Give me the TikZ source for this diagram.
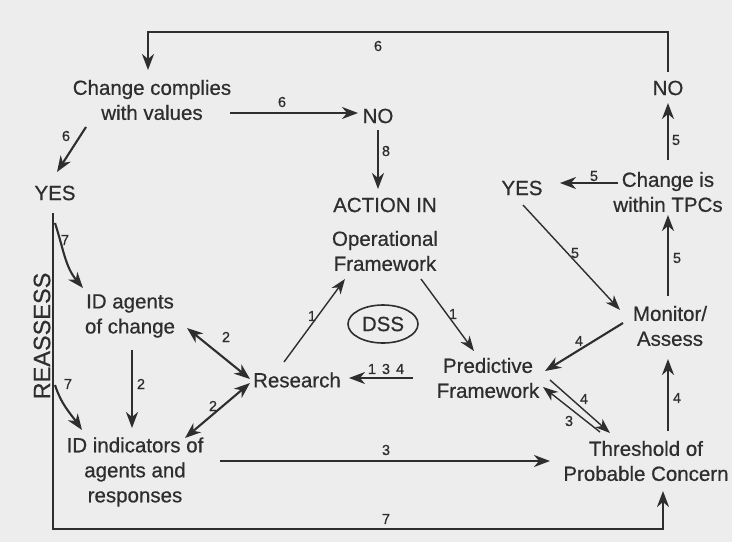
\documentclass[tikz,border=0pt]{standalone}
\usepackage{fontspec}
\setmainfont{Liberation Sans}[FakeBold=0.5]
\newfontfamily\lblfont{Liberation Sans}[FakeBold=0.6]
\usetikzlibrary{arrows.meta,calc,shapes.geometric}
\definecolor{ink}{HTML}{2E2E2E}
\definecolor{bg}{HTML}{EDEDED}
\begin{document}
\begin{tikzpicture}[x=1pt,y=-1pt,
  lbl/.style={text=ink,font=\lblfont\fontsize{20.5}{25}\selectfont,align=center,inner sep=0pt},
  num/.style={text=ink,font=\lblfont\fontsize{14.5}{14}\selectfont,inner sep=1pt},
  arr/.style={draw=ink,line width=2.1pt,-{Stealth[length=16pt,width=12pt,inset=5pt]}},
  tarr/.style={draw=ink,line width=1.4pt,-{Stealth[length=15pt,width=11pt,inset=4.5pt]}},
  darr/.style={draw=ink,line width=2.1pt,{Stealth[length=16pt,width=12pt,inset=5pt]}-{Stealth[length=16pt,width=12pt,inset=5pt]}},
  plain/.style={draw=ink,line width=2pt}]
\fill[bg] (0,0) rectangle (732,542);
\useasboundingbox (0,0) rectangle (732,542);

% nodes
\node[lbl] (cc) at (152,100) {Change complies\\with values};
\node[lbl] (no1) at (378,116) {NO};
\node[lbl] (act) at (385,205) {ACTION IN};
\node[lbl] (opf) at (385,251) {Operational\\Framework};
\node[lbl] (yes1) at (55,193) {YES};
\node[lbl] (ida) at (130,316) {ID agents\\of change};
\node[lbl] (idi) at (135,472) {ID indicators of\\agents and\\responses};
\node[lbl] (res) at (297,380) {Research};
\node[draw=ink,line width=1.6pt,ellipse,minimum width=70pt,minimum height=38pt,inner sep=0pt,text=ink,font=\lblfont\fontsize{20.5}{25}\selectfont] (dss) at (383,324) {DSS};
\node[lbl] (pred) at (488,378) {Predictive\\Framework};
\node[lbl] (thr) at (646,461) {Threshold of\\Probable Concern};
\node[lbl] (mon) at (670,326) {Monitor/\\Assess};
\node[lbl] (chg) at (668,192) {Change is\\within TPCs};
\node[lbl] (yes2) at (522,188) {YES};
\node[lbl] (no2) at (668,88) {NO};
\node[lbl,rotate=90,font=\lblfont\fontsize{23.5}{25}\selectfont] (reas) at (42,336) {REASSESS};

% top loop
\draw[arr] ($(no2)+(0,-16)$) -- ($(no2)+(0,-56)$) -| ($(cc)+(-4,-30)$);
\node[num] (n6a) at (378,46) {6};
% cc -> NO
\draw[arr] ($(cc)+(78,13)$) -- ($(no1)+(-20,-3)$);
\node[num] (n6b) at (282,102) {6};
% cc -> YES
\draw[arr] ($(cc)+(-66,27)$) -- ($(yes1)+(2,-21)$);
\node[num] (n6c) at (66,136) {6};
% NO -> ACTION
\draw[arr] ($(no1)+(0,14)$) -- ($(act)+(-7,-16)$);
\node[num] (n8) at (386,151) {8};
% REASSESS loop
\draw[arr] ($(yes1)+(-2,20)$) -- ($(yes1)+(-2,336)$) -| ($(thr)+(17,30)$);
\node[num] (n7a) at (386,519) {7};
% curves to ID nodes
\draw[arr] ($(yes1)+(0,30)$) to[out=-72,in=130] ($(ida)+(-47,-28)$);
\node[num] (n7b) at (65,240) {7};
\draw[arr] ($(yes1)+(0,192)$) to[out=-72,in=125] ($(idi)+(-53,-42)$);
\node[num] (n7c) at (68,384) {7};
% ID agents -> ID indicators
\draw[arr] ($(ida)+(2,34)$) -- ($(idi)+(-3,-44)$);
\node[num] (n2a) at (141,384) {2};
% double arrows with Research
\draw[darr] ($(ida)+(57,12)$) -- ($(res)+(-47,-1)$);
\node[num] (n2b) at (226,337) {2};
\draw[darr] ($(idi)+(50,-34)$) -- ($(res)+(-47,3)$);
\node[num] (n2c) at (213,406) {2};
% Research -> Operational
\draw[tarr] ($(res)+(-13,-18)$) -- ($(opf)+(-40,28)$);
\node[num] (n1a) at (312,316) {1};
% Operational -> Predictive
\draw[tarr] ($(opf)+(36,28)$) -- ($(pred)+(-14,-27)$);
\node[num] (n1b) at (453,314) {1};
% Predictive -> Research
\draw[arr] ($(pred)+(-75,0)$) -- ($(res)+(52,-2)$);
\node[num] (n134) at (386,369) {1\hspace{6pt}3\hspace{6pt}4};
% ID indicators -> Threshold
\draw[arr] ($(idi)+(85,-11)$) -- ($(thr)+(-96,0)$);
\node[num] (n3a) at (386,450) {3};
% vertical chain on right
\draw[arr] ($(thr)+(22,-30)$) -- ($(mon)+(-2,33)$);
\node[num] (n4a) at (677,398) {4};
\draw[arr] ($(mon)+(-2,-30)$) -- ($(chg)+(0,23)$);
\node[num] (n5a) at (677,258) {5};
\draw[arr] ($(chg)+(0,-32)$) -- ($(no2)+(0,15)$);
\node[num] (n5b) at (676,140) {5};
% Change is -> YES
\draw[arr] ($(chg)+(-50,-9)$) -- ($(yes2)+(38,-5)$);
\node[num] (n5c) at (594,176) {5};
% YES -> Monitor
\draw[tarr] ($(yes2)+(1,17)$) -- ($(mon)+(-50,-16)$);
\node[num] (n5d) at (575,253) {5};
% Monitor -> Predictive
\draw[arr] ($(mon)+(-47,-3)$) -- ($(pred)+(57,-7)$);
\node[num] (n4b) at (579,341) {4};
% Predictive <-> Threshold pair
\draw[tarr] ($(pred)+(62,2)$) -- ($(thr)+(-36,-28)$);
\draw[tarr] ($(thr)+(-46,-29)$) -- ($(pred)+(55,9)$);
\node[num] (n4c) at (584,399) {4};
\node[num] (n3b) at (569,421) {3};
\end{tikzpicture}
\end{document}
